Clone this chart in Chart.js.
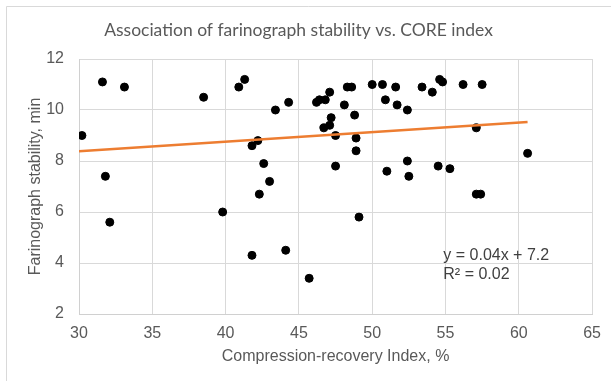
<!DOCTYPE html>
<html>
<head>
<meta charset="utf-8">
<script src="https://cdn.jsdelivr.net/npm/chart.js@4.4.0/dist/chart.umd.min.js"></script>
<style>
  html, body { margin: 0; padding: 0; background: #fff; }
  #wrap { width: 611px; height: 381px; }
</style>
</head>
<body>
<div id="wrap"><canvas id="grafico" width="611" height="381"></canvas></div>
<script>
// dados -----------------------------------------------------------------
const coreIndex = [30.2, 31.6, 33.1, 31.8, 32.1, 38.5, 39.8, 40.9, 41.3, 41.8,
  42.2, 42.3, 41.8, 42.6, 43.0, 43.4, 44.3, 44.1, 45.7, 46.2,
  46.4, 46.8, 47.1, 47.2, 47.1, 46.7, 47.5, 47.5, 48.1, 48.3,
  48.6, 48.8, 48.9, 48.9, 49.1, 50.0, 50.7, 50.9, 51.0, 51.6,
  51.7, 52.4, 52.4, 52.5, 53.4, 54.1, 54.6, 54.8, 56.2, 57.5,
  57.1, 60.6, 54.5, 55.3, 57.1, 57.4];
const stability = [9.0, 11.1, 10.9, 7.4, 5.6, 10.5, 6.0, 10.9, 11.2, 8.6,
  8.8, 6.7, 4.3, 7.9, 7.2, 10.0, 10.3, 4.5, 3.4, 10.3,
  10.4, 10.4, 10.7, 9.7, 9.4, 9.3, 9.0, 7.8, 10.2, 10.9,
  10.9, 9.8, 8.9, 8.4, 5.8, 11.0, 11.0, 10.4, 7.6, 10.9,
  10.2, 10.0, 8.0, 7.4, 10.9, 10.7, 11.2, 11.1, 11.0, 11.0,
  9.3, 8.3, 7.8, 7.7, 6.7, 6.7];

// linha de tendencia (extremos)
const trendX = [30, 60.6];
const trendY = [8.38, 9.53];

const xTicks = [30, 35, 40, 45, 50, 55, 60, 65];
const yTicks = [2, 4, 6, 8, 10, 12];
const equacao = ['y = 0.04x + 7.2', 'R² = 0.02'];
//-------------------------------------------------------------------------

const cinza = '#595959';
const fonte = "'Liberation Sans', Arial, sans-serif";

// moldura e texto da equacao
const extras = {
  id: 'extras',
  beforeDraw(chart) {
    const c = chart.ctx;
    c.save();
    c.fillStyle = '#fff';
    c.fillRect(0, 0, chart.width, chart.height);
    c.strokeStyle = '#d9d9d9';
    c.lineWidth = 1;
    c.beginPath();
    c.moveTo(6.5, 381);
    c.lineTo(6.5, 6.5);
    c.lineTo(611, 6.5);
    c.stroke();
    c.restore();
  },
  afterDatasetsDraw(chart) {
    const c = chart.ctx;
    const xs = chart.scales.x, ys = chart.scales.y;
    c.save();
    c.fillStyle = '#404040';
    c.font = '16px ' + fonte;
    c.textAlign = 'left';
    c.textBaseline = 'middle';
    const x0 = xs.getPixelForValue(54.85);
    c.fillText(equacao[0], x0, ys.getPixelForValue(4.3));
    c.fillText(equacao[1], x0, ys.getPixelForValue(3.56));
    c.restore();
  }
};

const ctx = document.getElementById('grafico').getContext('2d');
const grafico = new Chart(ctx, {
  type: 'scatter',
  data: {
    datasets: [
      {
        type: 'line',
        label: 'Tendência',
        data: trendX.map((x, i) => ({ x: x, y: trendY[i] })),
        borderColor: '#ED7D31',
        borderWidth: 2.5,
        pointRadius: 0,
        fill: false,
        order: 0
      },
      {
        label: 'Estabilidade',
        data: coreIndex.map((x, i) => ({ x: x, y: stability[i] })),
        backgroundColor: '#000',
        borderColor: '#000',
        pointRadius: 4,
        order: 1
      }
    ]
  },
  options: {
    responsive: false,
    animation: false,
    layout: { padding: { left: 0, right: 14, top: 0, bottom: 0 } },
    plugins: {
      legend: { display: false },
      tooltip: { enabled: false },
      title: {
        display: true,
        text: 'Association of farinograph stability vs. CORE index',
        color: cinza,
        font: { family: "Lato, 'Liberation Sans', sans-serif", size: 17.5, weight: 'normal' },
        padding: { top: 19.5, bottom: 18.5 }
      }
    },
    scales: {
      x: {
        type: 'linear',
        min: 30, max: 65,
        afterBuildTicks: s => { s.ticks = xTicks.map(v => ({ value: v })); },
        afterFit: s => { s.height = 67; },
        grid: { color: '#d9d9d9', drawTicks: false },
        border: { color: '#d0d0d0' },
        ticks: { color: cinza, font: { family: fonte, size: 16 }, padding: 10 },
        title: {
          display: true,
          text: 'Compression-recovery Index, %',
          color: cinza,
          font: { family: fonte, size: 16 },
          padding: { top: 0, bottom: 15 }
        }
      },
      y: {
        min: 2, max: 12,
        afterBuildTicks: s => { s.ticks = yTicks.map(v => ({ value: v })); },
        afterFit: s => { s.width = 79; },
        grid: { color: '#d9d9d9', drawTicks: false },
        border: { color: '#d0d0d0' },
        ticks: { color: cinza, font: { family: fonte, size: 16 }, padding: 15 },
        title: {
          display: true,
          text: 'Farinograph stability, min',
          color: cinza,
          font: { family: fonte, size: 16 },
          padding: { top: 26, bottom: 0 }
        }
      }
    }
  },
  plugins: [extras]
});
</script>
</body>
</html>
